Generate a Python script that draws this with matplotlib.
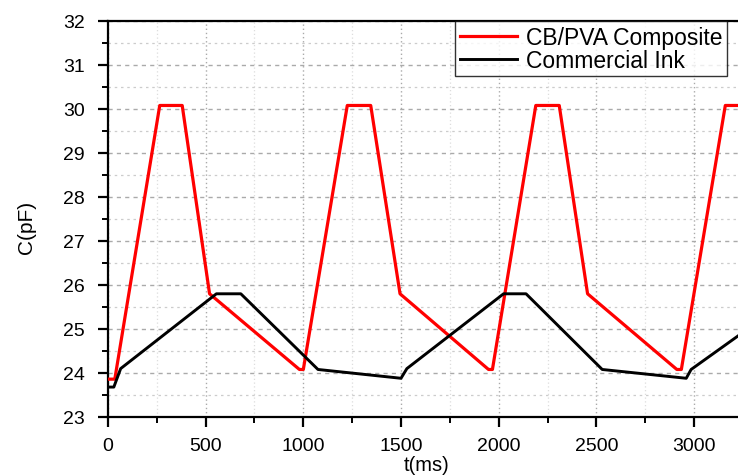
import matplotlib.pyplot as plt
from matplotlib.ticker import MultipleLocator

plt.rcParams['font.family'] = ['Liberation Sans', 'DejaVu Sans']

# CB/PVA composite (red)
t_cb = [0, 35, 265, 380, 520, 980, 1000, 1225, 1345, 1495, 1948, 1968,
        2190, 2310, 2455, 2912, 2935, 3160, 3300]
c_cb = [23.86, 23.86, 30.08, 30.08, 25.8, 24.08, 24.08, 30.08, 30.08, 25.8, 24.08, 24.08,
        30.08, 30.08, 25.8, 24.08, 24.08, 30.08, 30.08]

# commercial ink (black)
t_ink = [0, 30, 65, 555, 680, 1075, 1500, 1530, 2025, 2140, 2530, 2960, 2985, 3300]
c_ink = [23.68, 23.68, 24.1, 25.8, 25.8, 24.08, 23.88, 24.1, 25.8, 25.8, 24.08, 23.88, 24.08, 25.08]

fig = plt.figure(figsize=(7.38, 4.77), dpi=100)
ax = fig.add_axes([0.1463, 0.1237, 0.8537, 0.8302])

ax.plot(t_cb, c_cb, color='#ff0000', lw=2.3, label='CB/PVA Composite', zorder=3)
ax.plot(t_ink, c_ink, color='black', lw=2.1, label='Commercial Ink', zorder=3)

ax.set_xlim(0, 3225)
ax.set_ylim(23, 32)
ax.xaxis.set_major_locator(MultipleLocator(500))
ax.xaxis.set_minor_locator(MultipleLocator(250))
ax.yaxis.set_major_locator(MultipleLocator(1))
ax.yaxis.set_minor_locator(MultipleLocator(0.5))

ax.grid(which='major', axis='y', color='#aaaaaa', ls=(0, (3, 3)), lw=1.0)
ax.grid(which='minor', axis='y', color='#cccccc', ls=(0, (2, 3)), lw=0.9)
ax.grid(which='major', axis='x', color='#aaaaaa', ls=(0, (1, 2)), lw=1.0)
ax.grid(which='minor', axis='x', color='#dddddd', ls=(0, (1, 2)), lw=0.9)

ax.spines['right'].set_visible(False)
for s in ['left', 'bottom', 'top']:
    ax.spines[s].set_linewidth(1.6)

ax.tick_params(which='major', direction='out', length=7.5, width=1.6, labelsize=14)
ax.tick_params(axis='x', which='major', pad=7)
ax.tick_params(axis='y', which='major', pad=9)
ax.tick_params(which='minor', direction='out', length=4, width=1.4)
ax.tick_params(axis='x', top=False)

ax.set_xlabel('t(ms)', fontsize=14.5)
ax.set_ylabel('C(pF)', fontsize=15)
ax.xaxis.set_label_coords(0.506, -0.096)
ax.yaxis.set_label_coords(-0.114, 0.48)

leg = ax.legend(loc='upper left', bbox_to_anchor=(0.551, 1.0), fontsize=16.5,
                frameon=True, fancybox=False, borderaxespad=0, handlelength=2.5,
                handletextpad=0.4, borderpad=0.2, labelspacing=0.0)
leg.get_frame().set_edgecolor('black')
leg.get_frame().set_linewidth(1.0)

fig.savefig('out.png', dpi=100)
